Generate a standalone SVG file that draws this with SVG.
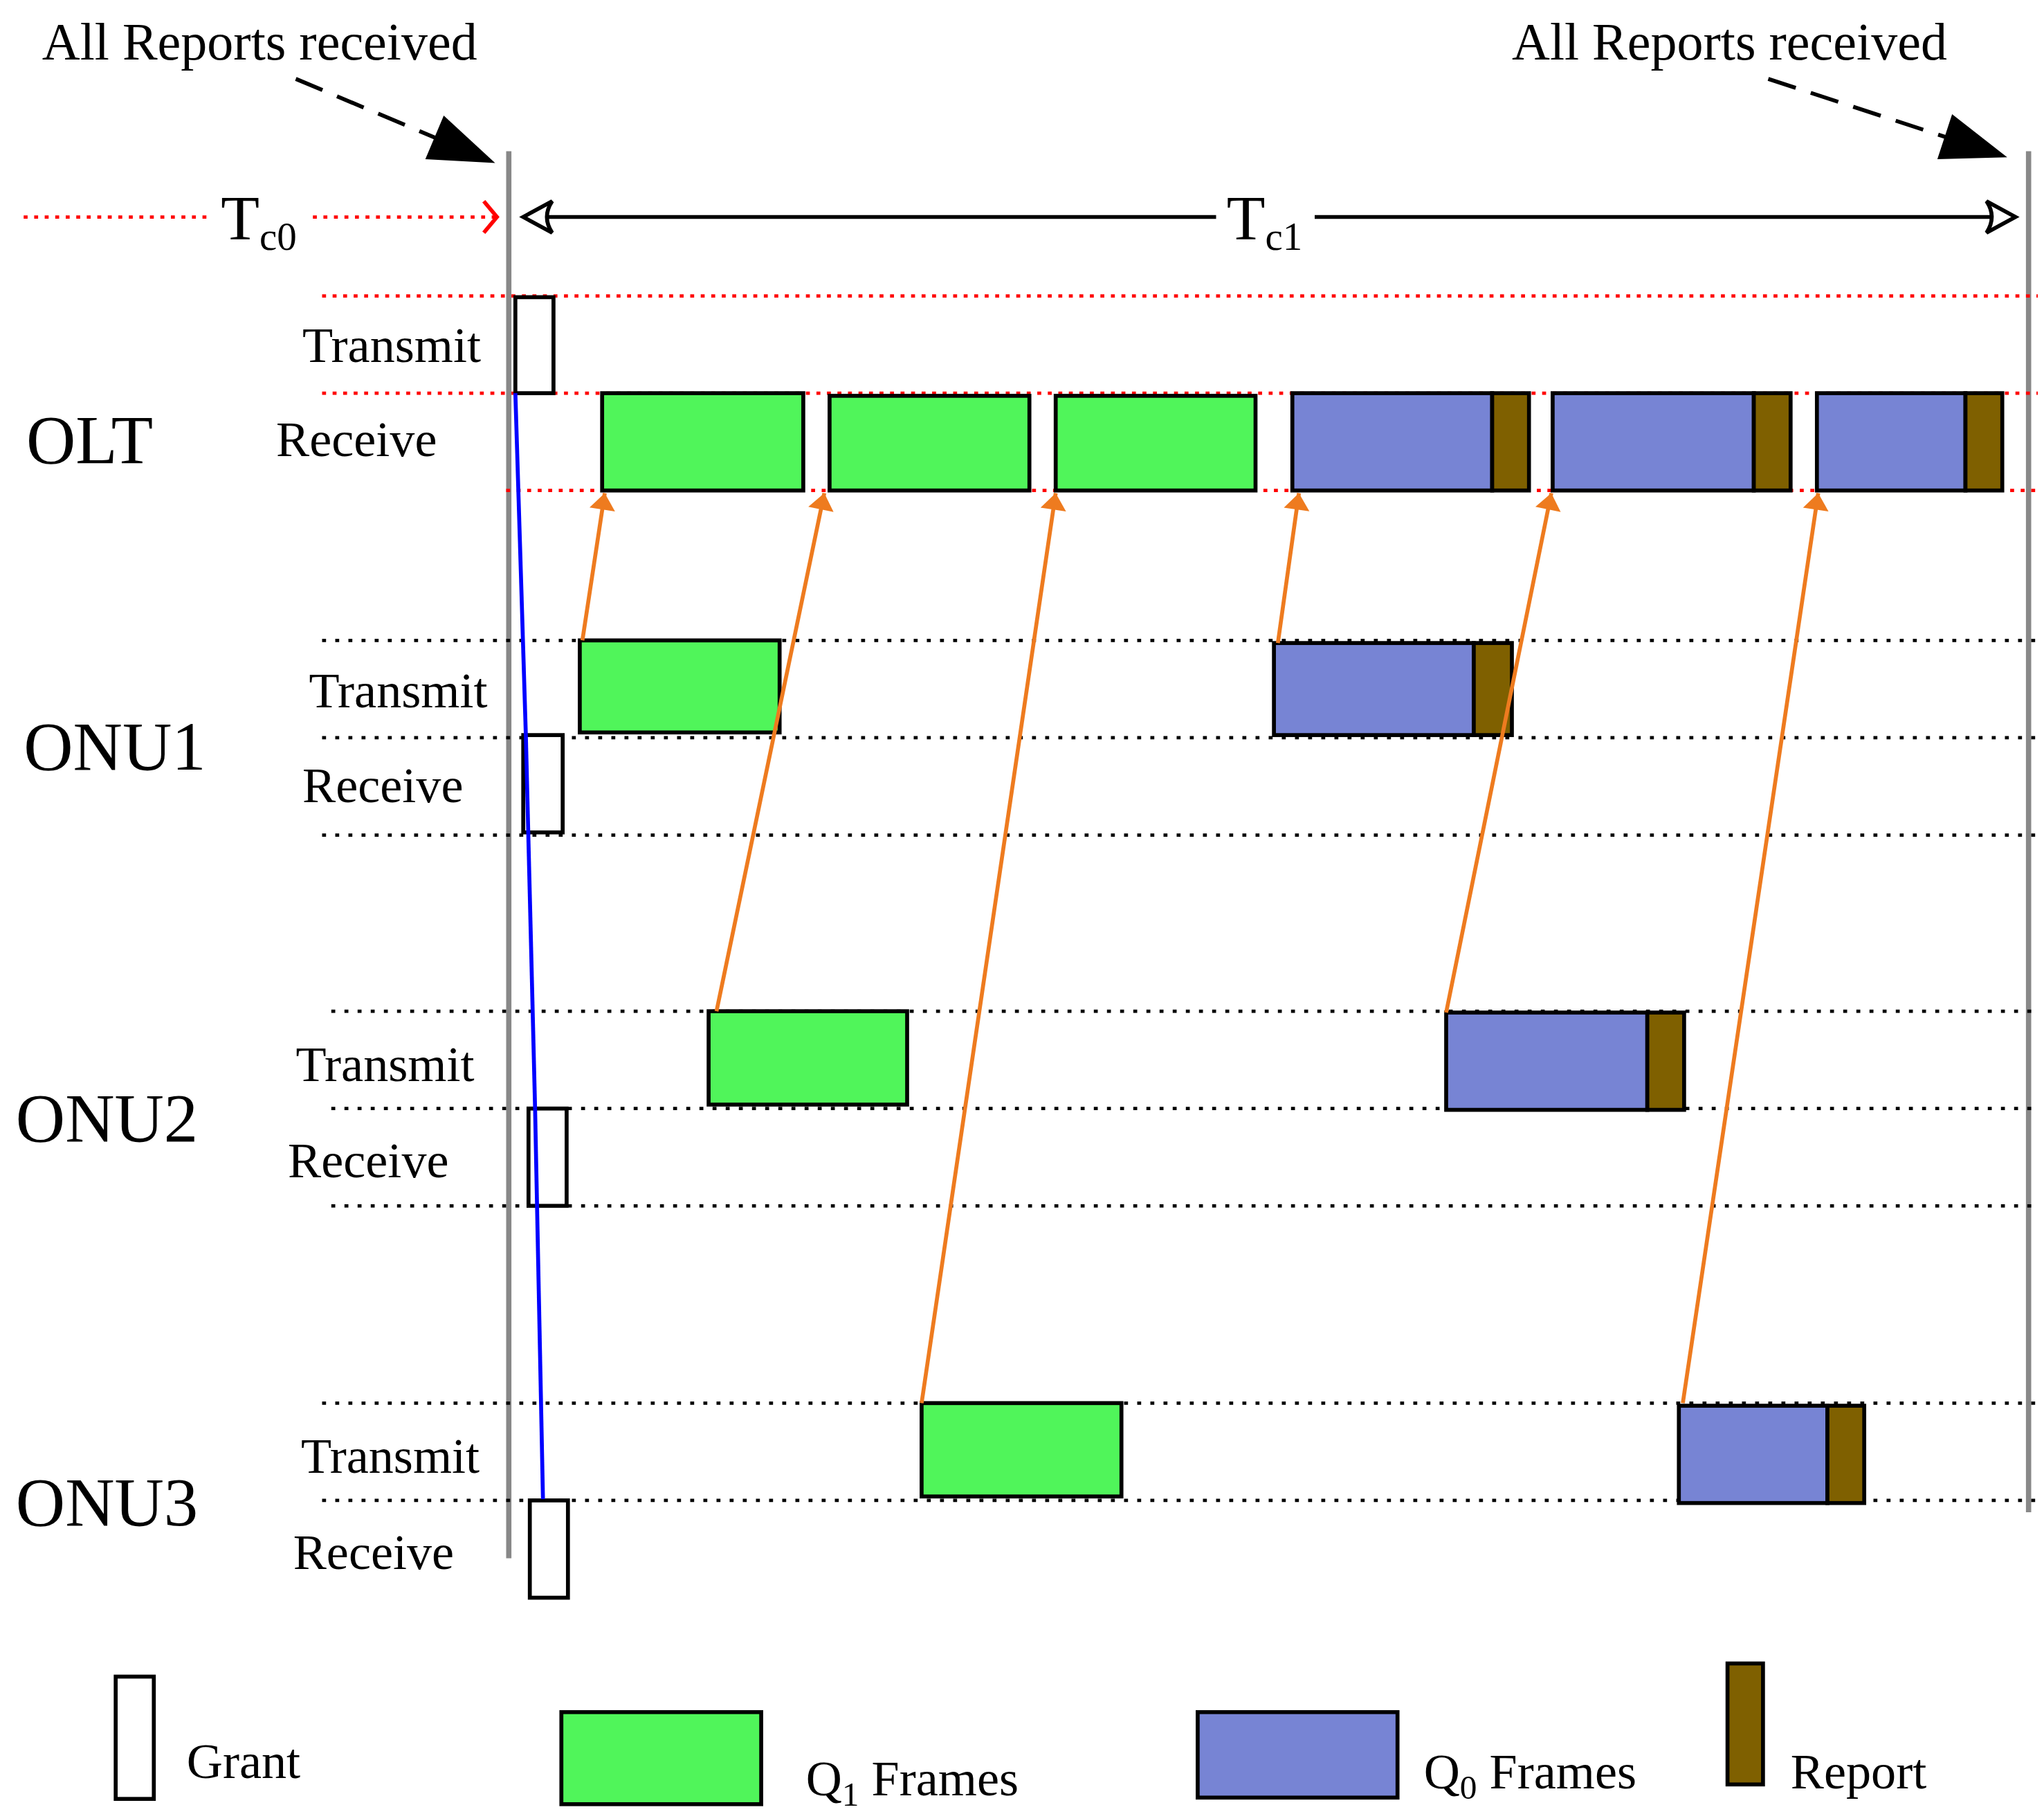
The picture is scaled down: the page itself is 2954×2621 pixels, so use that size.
<svg xmlns="http://www.w3.org/2000/svg" width="2954" height="2621" viewBox="0 0 2954 2621">
<style>
text{font-family:"Liberation Serif",serif;fill:#000}
.lb{font-size:38px}.big{font-size:52px}.hd{font-size:40px}
.g{fill:#50f55a;stroke:#000;stroke-width:3}
.b{fill:#7784d4;stroke:#000;stroke-width:3}
.r{fill:#7f6000;stroke:#000;stroke-width:3}
.w{fill:#fff;stroke:#000;stroke-width:3}
.rd{stroke:#f00;stroke-width:2.5;stroke-dasharray:3 5;fill:none}
.kd{stroke:#000;stroke-width:2.5;stroke-dasharray:3 7;fill:none}
.or{stroke:#ee7b1f;stroke-width:3;fill:none;marker-end:url(#oa)}
.bl{stroke:#00f;stroke-width:3;fill:none;marker-end:url(#ba)}
</style>
<defs>
<marker id="oa" viewBox="0 0 10 10" refX="9" refY="5" markerWidth="7" markerHeight="7" orient="auto" markerUnits="userSpaceOnUse" style="overflow:visible"><path d="M-18,-9 L0,5 L-18,19 z" transform="translate(9,0)" fill="#ee7b1f"/></marker>
<marker id="ba" viewBox="0 0 10 10" refX="0" refY="0" markerWidth="1" markerHeight="1" orient="auto" markerUnits="userSpaceOnUse" style="overflow:visible"><path d="M-14,-10 L0,0 L-14,10" fill="none" stroke="#00f" stroke-width="3"/></marker>
<marker id="ka" viewBox="0 0 1 1" refX="0" refY="0" markerWidth="1" markerHeight="1" orient="auto" markerUnits="userSpaceOnUse" style="overflow:visible"><path d="M-45,-18 L5,0 L-45,18 z" fill="#000"/></marker>
<marker id="oe" viewBox="0 0 1 1" refX="0" refY="0" markerWidth="1" markerHeight="1" orient="auto" markerUnits="userSpaceOnUse" style="overflow:visible"><path d="M0,0 L-22,-12 Q-14,0 -22,12 z" fill="#fff" stroke="#000" stroke-width="3"/></marker>
<marker id="ra" viewBox="0 0 1 1" refX="0" refY="0" markerWidth="1" markerHeight="1" orient="auto" markerUnits="userSpaceOnUse" style="overflow:visible"><path d="M-10,-12 L0,0 L-10,12" fill="none" stroke="#f00" stroke-width="3"/></marker>
</defs>
<rect width="2954" height="2621" fill="#fff"/>
<g transform="scale(1.9)">
<g id="axes">
<line x1="387" y1="115" x2="387" y2="1185" stroke="#888" stroke-width="4"/>
<line x1="1543" y1="115" x2="1543" y2="1150" stroke="#888" stroke-width="4"/>
<text class="hd" x="32" y="45">All Reports received</text>
<text class="hd" x="1150" y="45">All Reports received</text>
<line x1="225" y1="60" x2="372" y2="122" stroke="#000" stroke-width="3" stroke-dasharray="22 12" marker-end="url(#ka)"/>
<line x1="1345" y1="60" x2="1522" y2="118" stroke="#000" stroke-width="3" stroke-dasharray="22 12" marker-end="url(#ka)"/>
<line x1="18" y1="165" x2="160" y2="165" class="rd"/>
<line x1="238" y1="165" x2="378" y2="165" class="rd" marker-end="url(#ra)"/>
<text x="168" y="182" style="font-size:48px">T<tspan dy="8" style="font-size:30px">c0</tspan></text>
<line x1="925" y1="165" x2="398" y2="165" stroke="#000" stroke-width="3" marker-end="url(#oe)"/>
<line x1="1000" y1="165" x2="1533" y2="165" stroke="#000" stroke-width="3" marker-end="url(#oe)"/>
<text x="933" y="182" style="font-size:48px">T<tspan dy="8" style="font-size:30px">c1</tspan></text>
</g>
<g id="grid">
<line x1="245" y1="225" x2="1550" y2="225" class="rd"/>
<line x1="245" y1="299" x2="1550" y2="299" class="rd"/>
<line x1="385" y1="373" x2="1550" y2="373" class="rd"/>
<line x1="245" y1="487" x2="1550" y2="487" class="kd"/>
<line x1="245" y1="561" x2="1550" y2="561" class="kd"/>
<line x1="245" y1="635" x2="1550" y2="635" class="kd"/>
<line x1="252" y1="769" x2="1550" y2="769" class="kd"/>
<line x1="252" y1="843" x2="1550" y2="843" class="kd"/>
<line x1="252" y1="917" x2="1550" y2="917" class="kd"/>
<line x1="245" y1="1067" x2="1550" y2="1067" class="kd"/>
<line x1="245" y1="1141" x2="1550" y2="1141" class="kd"/>
</g>
<g id="OLT">
<text class="big" x="20" y="352">OLT</text>
<text class="lb" x="230" y="275">Transmit</text>
<text class="lb" x="210" y="347">Receive</text>
<rect class="w" x="392" y="226" width="29" height="73"/>
<rect class="g" x="458" y="299" width="153" height="74"/>
<rect class="g" x="631" y="301" width="152" height="72"/>
<rect class="g" x="803" y="301" width="152" height="72"/>
<rect class="b" x="983" y="299" width="152" height="74"/><rect class="r" x="1135" y="299" width="28" height="74"/>
<rect class="b" x="1181" y="299" width="153" height="74"/><rect class="r" x="1334" y="299" width="28" height="74"/>
<rect class="b" x="1382" y="299" width="113" height="74"/><rect class="r" x="1495" y="299" width="28" height="74"/>
</g>
<g id="ONU1">
<text class="big" x="18" y="585">ONU1</text>
<text class="lb" x="235" y="538">Transmit</text>
<text class="lb" x="230" y="610">Receive</text>
<rect class="g" x="441" y="487" width="152" height="70"/>
<rect class="b" x="969" y="489" width="152" height="70"/><rect class="r" x="1121" y="489" width="29" height="70"/>
<rect class="w" x="398" y="559" width="30" height="74"/>
</g>
<g id="ONU2">
<text class="big" x="12" y="868">ONU2</text>
<text class="lb" x="225" y="822">Transmit</text>
<text class="lb" x="219" y="895">Receive</text>
<rect class="g" x="539" y="769" width="151" height="71"/>
<rect class="b" x="1100" y="770" width="153" height="74"/><rect class="r" x="1253" y="770" width="28" height="74"/>
<rect class="w" x="402" y="843" width="29" height="74"/>
</g>
<g id="ONU3">
<text class="big" x="12" y="1160">ONU3</text>
<text class="lb" x="229" y="1120">Transmit</text>
<text class="lb" x="223" y="1193">Receive</text>
<rect class="g" x="701" y="1067" width="152" height="71"/>
<rect class="b" x="1277" y="1069" width="113" height="74"/><rect class="r" x="1390" y="1069" width="28" height="74"/>
<rect class="w" x="403" y="1141" width="29" height="74"/>
</g>
<g id="connectors">
<line x1="392" y1="299" x2="400" y2="560" class="bl"/>
<line x1="400" y1="560" x2="407" y2="843" class="bl"/>
<line x1="407" y1="843" x2="413" y2="1140" class="bl"/>
<line x1="443" y1="487" x2="460" y2="375" class="or"/>
<line x1="545" y1="769" x2="627" y2="375" class="or"/>
<line x1="701" y1="1067" x2="803" y2="375" class="or"/>
<line x1="972" y1="489" x2="988" y2="375" class="or"/>
<line x1="1100" y1="770" x2="1180" y2="375" class="or"/>
<line x1="1280" y1="1067" x2="1383" y2="375" class="or"/>
</g>
<g id="legend">
<rect class="w" x="88" y="1275" width="29" height="93"/>
<text class="lb" x="142" y="1352">Grant</text>
<rect class="g" x="427" y="1302" width="152" height="70"/>
<text class="lb" x="613" y="1365">Q<tspan dy="8" style="font-size:26px">1</tspan><tspan dy="-8"> Frames</tspan></text>
<rect class="b" x="911" y="1302" width="152" height="65"/>
<text class="lb" x="1083" y="1360">Q<tspan dy="8" style="font-size:26px">0</tspan><tspan dy="-8"> Frames</tspan></text>
<rect class="r" x="1314" y="1265" width="27" height="92"/>
<text class="lb" x="1362" y="1360">Report</text>
</g>
</g>
</svg>
